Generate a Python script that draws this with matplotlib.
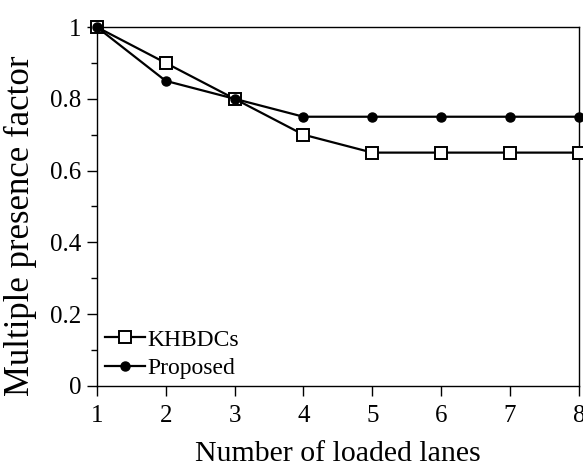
"""
Multiple presence factor vs number of loaded lanes
"""

import matplotlib

matplotlib.use("Agg")
import matplotlib.pyplot as plt
from matplotlib.ticker import MultipleLocator

lanes = [1, 2, 3, 4, 5, 6, 7, 8]
khbdcs = [1.0, 0.9, 0.8, 0.7, 0.65, 0.65, 0.65, 0.65]
proposed = [1.0, 0.85, 0.8, 0.75, 0.75, 0.75, 0.75, 0.75]

plt.rcParams["font.family"] = ["Liberation Serif", "DejaVu Serif"]

fig = plt.figure(figsize=(5.83, 4.66), dpi=100)
ax = fig.add_axes([0.166, 0.172, 0.827, 0.770])

ax.plot(lanes, khbdcs, color="black", lw=1.6, marker="s", ms=8,
        mfc="white", mec="black", mew=1.4, label="KHBDCs", clip_on=False, zorder=3)
ax.plot(lanes, proposed, color="black", lw=1.6, marker="o", ms=6.5,
        label="Proposed", clip_on=False, zorder=4)

ax.set_xlim(1, 8)
ax.set_ylim(0, 1)
ax.set_xticks(lanes)
ax.set_yticks([0, 0.2, 0.4, 0.6, 0.8, 1.0])
ax.set_yticklabels(["0", "0.2", "0.4", "0.6", "0.8", "1"])
ax.yaxis.set_minor_locator(MultipleLocator(0.1))
ax.tick_params(axis="both", which="major", direction="out", length=7, width=1,
               labelsize=18, top=False, right=False)
ax.tick_params(axis="x", which="major", pad=7)
ax.tick_params(axis="y", which="major", pad=4)
ax.tick_params(axis="y", which="minor", direction="out", length=4, width=1)
for s in ax.spines.values():
    s.set_linewidth(1.0)

ax.set_xlabel("Number of loaded lanes", fontsize=21.5, labelpad=10)
ax.set_ylabel("Multiple presence factor", fontsize=25)
ax.yaxis.set_label_coords(-0.125, 0.445)

ax.legend(loc="lower left", frameon=False, fontsize=17, handlelength=1.7,
          handletextpad=0.1, borderaxespad=0.0, borderpad=0.2, labelspacing=0.3,
          bbox_to_anchor=(0.008, 0.005))

fig.savefig("out.png", dpi=100)
